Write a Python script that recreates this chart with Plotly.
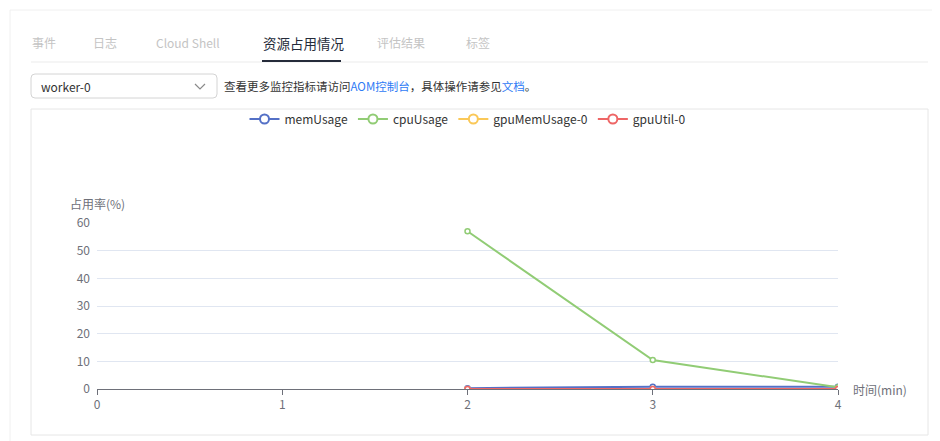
import plotly.graph_objects as go

# data
minutes = [2, 3, 4]
mem_usage = [0.3, 0.8, 0.8]
cpu_usage = [57.0, 10.5, 0.6]
gpu_mem_usage = [0.0, 0.0, 0.0]
gpu_util = [0.0, 0.0, 0.0]

series = [
    ("memUsage", mem_usage, "#5470c6"),
    ("cpuUsage", cpu_usage, "#91cc75"),
    ("gpuMemUsage-0", gpu_mem_usage, "#fac858"),
    ("gpuUtil-0", gpu_util, "#ee6666"),
]

x_ticks = [0, 1, 2, 3, 4]
y_ticks = [0, 10, 20, 30, 40, 50, 60]

# the page body has an 8px margin, so the figure is made smaller to fit
OFF = 8
W, H = 940 - OFF, 441 - OFF
PL, PR, PT, PB = 97, 838, 223, 389  # plot area in page pixels

FONT = "Noto Sans CJK SC, Microsoft YaHei, sans-serif"
TXT = "#333333"
AXIS = "#6e7079"


def px(x):
    return (x - PL) / (PR - PL)


def py(y):
    return (PB - y) / (PB - PT)


fig = go.Figure()
for name, vals, color in series:
    fig.add_trace(go.Scatter(
        x=minutes, y=vals, name=name, mode="lines+markers",
        line=dict(color=color, width=2),
        marker=dict(symbol="circle", size=5, color="white",
                    line=dict(color=color, width=1.5)),
        hoverinfo="skip", showlegend=False,
    ))
# legend entries drawn with the larger hollow circle icon
for name, vals, color in series:
    fig.add_trace(go.Scatter(
        x=[None], y=[None], name=name, mode="lines+markers",
        line=dict(color=color, width=2),
        marker=dict(symbol="circle", size=9, color="white",
                    line=dict(color=color, width=2)),
        hoverinfo="skip",
    ))

shapes = []


def rect(x0, y0, x1, y1, color, width=1):
    shapes.append(dict(type="rect", xref="paper", yref="paper",
                       x0=px(x0), x1=px(x1), y0=py(y0), y1=py(y1),
                       line=dict(color=color, width=width), layer="below"))


def hline(x0, x1, y, color, width=1):
    shapes.append(dict(type="line", xref="paper", yref="paper",
                       x0=px(x0), x1=px(x1), y0=py(y), y1=py(y),
                       line=dict(color=color, width=width)))


# card and panels
rect(10, 10, 960, 460, "#f0f0f0")
rect(31, 109, 928, 435, "#e6e6e6")
hline(31, 928, 62, "#ebebeb")
hline(262, 341, 61, "#252b3a", 2)

# dropdown box with rounded corners
x0, y0, x1, y1, r = 31, 74, 217, 98, 4
path = (f"M {px(x0 + r)},{py(y0)} L {px(x1 - r)},{py(y0)} "
        f"Q {px(x1)},{py(y0)} {px(x1)},{py(y0 + r)} L {px(x1)},{py(y1 - r)} "
        f"Q {px(x1)},{py(y1)} {px(x1 - r)},{py(y1)} L {px(x0 + r)},{py(y1)} "
        f"Q {px(x0)},{py(y1)} {px(x0)},{py(y1 - r)} L {px(x0)},{py(y0 + r)} "
        f"Q {px(x0)},{py(y0)} {px(x0 + r)},{py(y0)} Z")
shapes.append(dict(type="path", xref="paper", yref="paper", path=path,
                   line=dict(color="#d4d4d4", width=1)))
chev = f"M {px(195)},{py(84)} L {px(200)},{py(89)} L {px(205)},{py(84)}"
shapes.append(dict(type="path", xref="paper", yref="paper", path=chev,
                   line=dict(color="#8a8a8a", width=1.2)))

annotations = []


def text(x, y, s, size=12, color=TXT, xanchor="left", yanchor="middle"):
    annotations.append(dict(x=px(x), y=py(y), xref="paper", yref="paper",
                            text=s, showarrow=False, xanchor=xanchor,
                            yanchor=yanchor, font=dict(size=size, color=color,
                                                       family=FONT)))


# tabs (neighbouring tabs are blurred in the reference)
for label, xx in [("事件", 30), ("日志", 91), ("Cloud Shell", 154),
                  ("评估结果", 375), ("标签", 464)]:
    text(xx, 43, label, size=12, color="#c4c4c4")
text(261, 43, "资源占用情况", size=13.5, color="#252b3a")

text(39, 86, "worker-0", size=12)
text(222, 86, "查看更多监控指标请访问<span style='color:#2f7bf5'>AOM控制台</span>"
     "，具体操作请参见<span style='color:#2f7bf5'>文档</span>。", size=11.5)

# axis names
text(97, 203, "占用率(%)", size=12, color=AXIS, xanchor="center")
text(851, 389, "时间(min)", size=12, color=AXIS)

fig.update_layout(
    width=W, height=H,
    margin=dict(l=PL - OFF, r=W - (PR - OFF), t=PT - OFF, b=H - (PB - OFF)),
    paper_bgcolor="white", plot_bgcolor="white",
    font=dict(family=FONT, size=12, color=AXIS),
    showlegend=True,
    legend=dict(orientation="h", x=0.5, xanchor="center", y=py(119),
                yanchor="middle", font=dict(size=12, color=TXT),
                bgcolor="rgba(0,0,0,0)", itemwidth=30, tracegroupgap=0),
    xaxis=dict(range=[0, 4], tickvals=x_ticks, showgrid=False, zeroline=False,
               showline=True, linecolor=AXIS, linewidth=1, ticks="outside",
               ticklen=5, tickcolor=AXIS, tickfont=dict(size=12, color=AXIS)),
    yaxis=dict(range=[0, 60], tickvals=y_ticks, showgrid=True,
               gridcolor="#e0e6f1", zeroline=False, showline=False,
               ticklabelstandoff=6, tickfont=dict(size=12, color=AXIS)),
    shapes=shapes, annotations=annotations,
)

fig.write_html("out.html")
